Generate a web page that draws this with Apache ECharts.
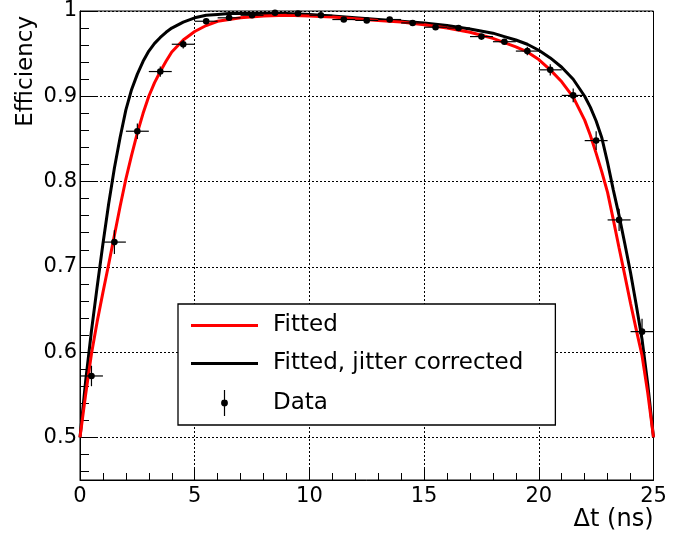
<!DOCTYPE html>
<html>
<head>
<meta charset="utf-8">
<script src="https://cdn.jsdelivr.net/npm/echarts@6/dist/echarts.min.js"></script>
<style>html,body{margin:0;padding:0;background:#fff;}#c{width:687px;height:539px;}</style>
</head>
<body>
<div id="c"></div>
<script>
// Data points (Δt bin centres) and measured efficiency
const dataX = [0.5,1.5,2.5,3.5,4.5,5.5,6.5,7.5,8.5,9.5,10.5,11.5,12.5,13.5,14.5,15.5,16.5,17.5,18.5,19.5,20.5,21.5,22.5,23.5,24.5];
const dataY = [0.572,0.729,0.859,0.929,0.961,0.988,0.992,0.995,0.998,0.997,0.995,0.990,0.989,0.990,0.986,0.981,0.980,0.970,0.964,0.953,0.931,0.901,0.848,0.755,0.624];
const dataErrX = [0.5,0.5,0.5,0.5,0.5,0.5,0.5,0.5,0.5,0.5,0.5,0.5,0.5,0.5,0.5,0.5,0.5,0.5,0.5,0.5,0.5,0.5,0.5,0.5,0.5];
const dataErrY = [0.012,0.014,0.009,0.006,0.005,0.003,0.002,0.002,0.002,0.002,0.002,0.002,0.002,0.002,0.002,0.002,0.002,0.003,0.003,0.005,0.0065,0.008,0.011,0.013,0.015];

// Fitted curves
const curveX = [0,0.25,0.5,0.75,1,1.25,1.5,1.75,2,2.25,2.5,2.75,3,3.25,3.5,3.75,4,4.5,5,5.5,6,6.5,7,8,9,10,11,12,13,14,15,16,17,18,18.5,19,19.5,20,20.5,21,21.5,22,22.25,22.5,22.75,23,23.25,23.5,23.75,24,24.25,24.5,24.75,25];
const fittedY = [0.500,0.551,0.598,0.636,0.670,0.703,0.737,0.771,0.803,0.831,0.857,0.880,0.900,0.916,0.929,0.941,0.952,0.966,0.976,0.983,0.988,0.990,0.992,0.994,0.995,0.994,0.993,0.991,0.989,0.987,0.984,0.980,0.975,0.968,0.963,0.958,0.952,0.943,0.931,0.917,0.899,0.872,0.854,0.833,0.811,0.787,0.755,0.722,0.690,0.657,0.626,0.596,0.552,0.500];
const jitterY = [0.500,0.567,0.625,0.677,0.727,0.774,0.816,0.852,0.884,0.908,0.926,0.941,0.953,0.962,0.969,0.975,0.980,0.987,0.992,0.995,0.996,0.997,0.997,0.997,0.997,0.996,0.994,0.992,0.990,0.988,0.986,0.983,0.979,0.974,0.970,0.966,0.961,0.954,0.945,0.934,0.920,0.900,0.887,0.871,0.851,0.822,0.790,0.760,0.727,0.693,0.655,0.615,0.562,0.500];

const seriesNames = ['Fitted', 'Fitted, jitter corrected', 'Data'];

const FONT = 'DejaVu Sans';
const LINE_ICON = 'path://M0,-1.5L67,-1.5L67,1.5L0,1.5Z';
const DATA_ICON = 'path://M-0.6,-13L0.6,-13L0.6,-3L-0.6,-3Z M-0.6,3L0.6,3L0.6,13L-0.6,13Z M0,-3.4A3.4,3.4,0,1,1,0,3.4A3.4,3.4,0,1,1,0,-3.4Z';
const fittedData = curveX.map((x, i) => [x, fittedY[i]]);
const jitterData = curveX.map((x, i) => [x, jitterY[i]]);
const pointData = dataX.map((x, i) => [x, dataY[i], dataErrX[i], dataErrY[i]]);

const chart = echarts.init(document.getElementById('c'), null, {renderer: 'canvas'});
chart.setOption({
  backgroundColor: '#fff',
  animation: false,
  grid: {left: 80, right: 33.5, top: 11, bottom: 59, show: true, borderColor: '#000', borderWidth: 1, backgroundColor: 'transparent'},
  xAxis: {
    type: 'value', min: 0, max: 25, interval: 5,
    name: '\u0394t (ns)', nameLocation: 'end', nameGap: 0,
    nameTextStyle: {fontFamily: FONT, fontSize: 24, color: '#000', align: 'right', verticalAlign: 'top', padding: [28, 0, 0, 0]},
    axisLine: {show: true, onZero: false, lineStyle: {color: '#000', width: 1}},
    axisTick: {show: true, inside: true, length: 12, lineStyle: {color: '#000', width: 1}},
    minorTick: {show: true, splitNumber: 5, length: 7, lineStyle: {color: '#000', width: 1}},
    axisLabel: {fontFamily: FONT, fontSize: 21, color: '#000', margin: 6},
    splitLine: {show: true, lineStyle: {color: '#000', width: 1, type: [2, 2]}},
    minorSplitLine: {show: false}
  },
  yAxis: {
    type: 'value', min: 0.45, max: 1.0, minInterval: 0.1, maxInterval: 0.1,
    name: 'Efficiency', nameLocation: 'end', nameRotate: 90, nameGap: -5,
    nameTextStyle: {fontFamily: FONT, fontSize: 23, color: '#000', align: 'right', verticalAlign: 'bottom', padding: [0, 0, 42, 0]},
    axisLine: {show: true, onZero: false, lineStyle: {color: '#000', width: 1}},
    axisTick: {show: true, inside: true, length: 16, lineStyle: {color: '#000', width: 1}},
    minorTick: {show: true, splitNumber: 5, length: 9, lineStyle: {color: '#000', width: 1}},
    axisLabel: {fontFamily: FONT, fontSize: 21, color: '#000', margin: 3, showMinLabel: false,
      formatter: v => (Math.abs(v * 10 - Math.round(v * 10)) < 1e-6 ? String(Math.round(v * 10) / 10) : '')},
    splitLine: {show: true, lineStyle: {color: '#000', width: 1, type: [2, 2]}},
    minorSplitLine: {show: false}
  },
  legend: {
    orient: 'vertical', left: 178, top: 304,
    padding: [10, 32, 9, 13], itemWidth: 67, itemHeight: 26, itemGap: 15,
    borderColor: '#000', borderWidth: 1.3, backgroundColor: '#fff',
    selectedMode: false,
    textStyle: {fontFamily: FONT, fontSize: 23, color: '#000', padding: [0, 0, 0, 10]},
    data: [
      {name: seriesNames[0], icon: LINE_ICON, itemStyle: {color: '#ff0000'}},
      {name: seriesNames[1], icon: LINE_ICON, itemStyle: {color: '#000'}},
      {name: seriesNames[2], icon: DATA_ICON, itemStyle: {color: '#000'}}
    ]
  },
  series: [
    {
      name: seriesNames[1], type: 'line', data: jitterData, symbol: 'none', showSymbol: false,
      lineStyle: {color: '#000', width: 3}, itemStyle: {color: '#000'}, z: 3
    },
    {
      name: seriesNames[0], type: 'line', data: fittedData, symbol: 'none', showSymbol: false,
      lineStyle: {color: '#ff0000', width: 3}, itemStyle: {color: '#ff0000'}, z: 4
    },
    {
      name: seriesNames[2], type: 'custom', data: pointData, z: 5,
      itemStyle: {color: '#000'},
      encode: {x: 0, y: 1},
      renderItem: function (params, api) {
        const x = api.value(0), y = api.value(1), ex = api.value(2), ey = api.value(3);
        const c = api.coord([x, y]);
        const l = api.coord([x - ex, y]);
        const r = api.coord([x + ex, y]);
        const t = api.coord([x, y + ey]);
        const b = api.coord([x, y - ey]);
        return {
          type: 'group',
          children: [
            {type: 'line', shape: {x1: l[0], y1: l[1], x2: r[0], y2: r[1]}, style: {stroke: '#000', lineWidth: 1.2}},
            {type: 'line', shape: {x1: t[0], y1: t[1], x2: b[0], y2: b[1]}, style: {stroke: '#000', lineWidth: 1.2}},
            {type: 'circle', shape: {cx: c[0], cy: c[1], r: 3.3}, style: {fill: '#000'}}
          ]
        };
      }
    }
  ]
});
</script>
</body>
</html>
